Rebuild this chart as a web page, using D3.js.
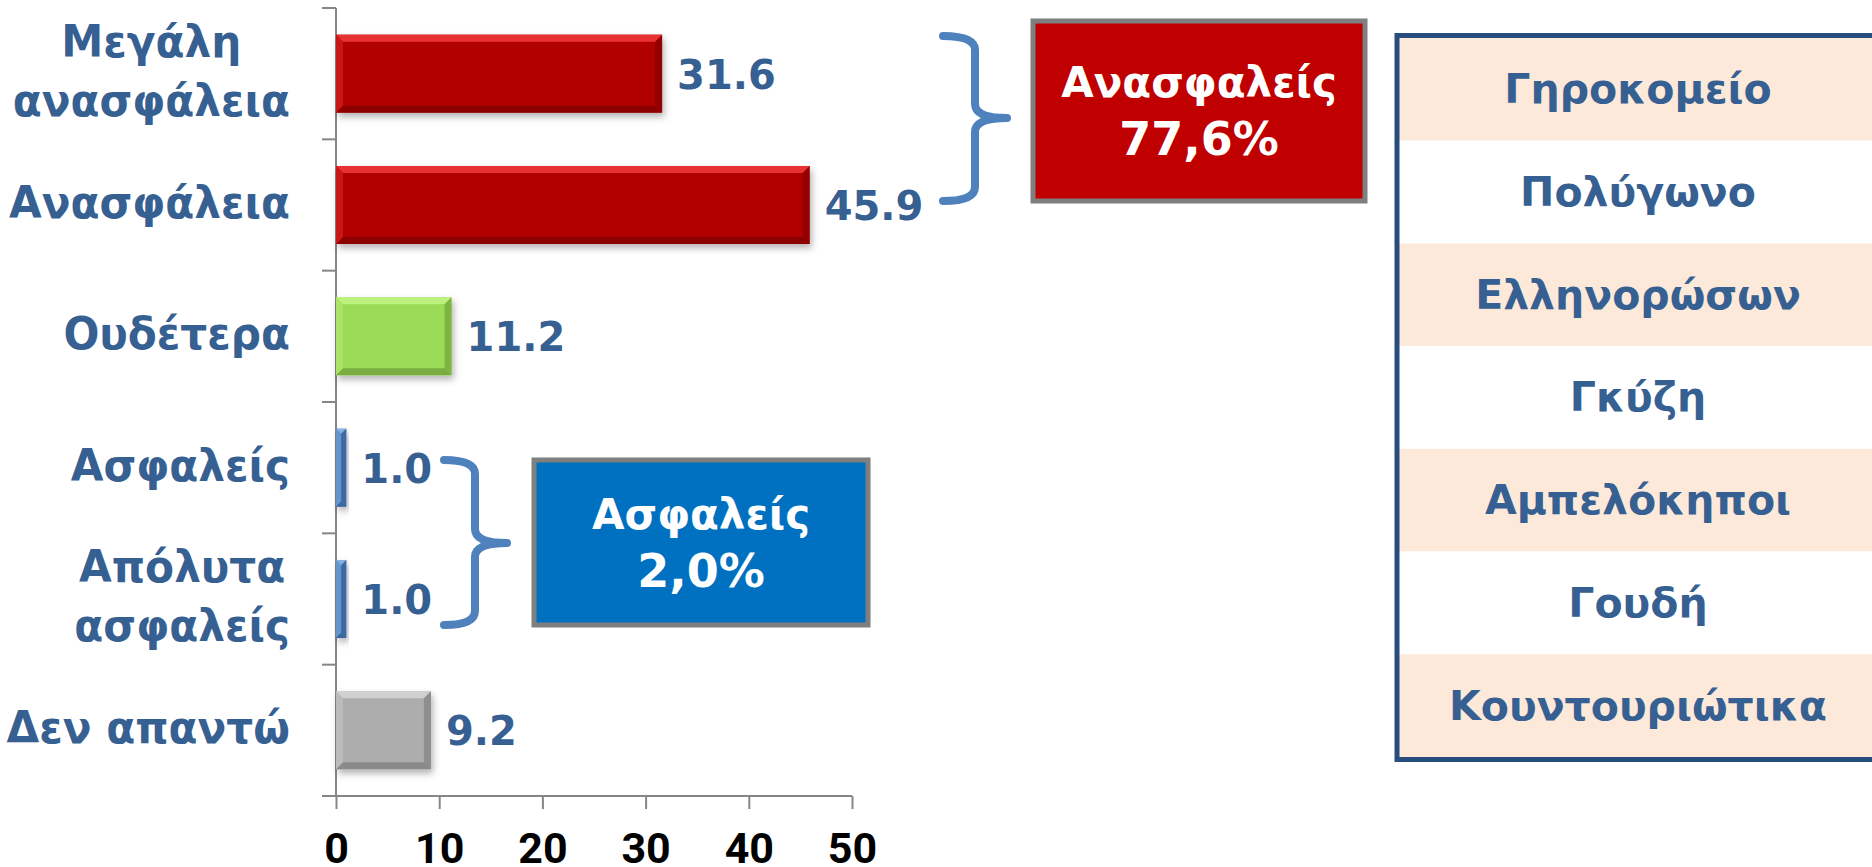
<!DOCTYPE html>
<html>
<head>
<meta charset="utf-8">
<script src="https://d3js.org/d3.v7.min.js"></script>
<style>
  body { margin: 0; background: #fff; }
  svg { display: block; }
  .lbl { font-family: "DejaVu Sans", Verdana, sans-serif; font-weight: bold; }
</style>
</head>
<body>
<div id="chart"></div>
<script>

// data
var categories = ["Μεγάλη\nανασφάλεια", "Ανασφάλεια", "Ουδέτερα", "Ασφαλείς", "Απόλυτα\nασφαλείς", "Δεν απαντώ"];
var values = [31.6, 45.9, 11.2, 1.0, 1.0, 9.2];
var groups = ["insecure", "insecure", "neutral", "secure", "secure", "noanswer"];
var xTicks = [0, 10, 20, 30, 40, 50];
var summaryLabels = ["Ανασφαλείς", "Ασφαλείς"];
var summaryValues = ["77,6%", "2,0%"];
var areas = ["Γηροκομείο", "Πολύγωνο", "Ελληνορώσων", "Γκύζη", "Αμπελόκηποι", "Γουδή", "Κουντουριώτικα"];

// colours per group: main, light edge, dark edge
var palette = {
  insecure: ["#b00404", "#f23a3a", "#7e0000"],
  neutral:  ["#9bdb55", "#c2f486", "#6b9a37"],
  secure:   ["#4f81bd", "#8fb6e6", "#2f5d92"],
  noanswer: ["#adadad", "#d6d6d6", "#7a7a7a"]
};
var textBlue = "#376092";
var axisGrey = "#868686";

var width = 1872, height = 867;
var axisY = 796;

var svg = d3.select("#chart").append("svg")
    .attr("width", width)
    .attr("height", height);

var defs = svg.append("defs");
var shadow = defs.append("filter").attr("id", "shadow")
    .attr("x", "-10%").attr("y", "-20%").attr("width", "130%").attr("height", "160%");
shadow.append("feDropShadow")
    .attr("dx", 2).attr("dy", 4).attr("stdDeviation", 3.5)
    .attr("flood-color", "#000").attr("flood-opacity", 0.3);

// scales
var x = d3.scaleLinear().domain([0, 50]).range([336, 852]);
var y = d3.scaleBand().domain(categories).range([8, axisY]).paddingInner(0.406).paddingOuter(0.203);

// y axis (ticks at band boundaries, like the office chart)
var bounds = categories.map(function(c) { return y(c) - y.step() * y.paddingInner() / 2; }).concat([axisY]);
svg.append("line")
    .attr("x1", x(0)).attr("x2", x(0)).attr("y1", 8).attr("y2", axisY)
    .attr("stroke", axisGrey).attr("stroke-width", 2);
svg.selectAll(".ytick").data(bounds).enter().append("line")
    .attr("x1", x(0) - 14).attr("x2", x(0))
    .attr("y1", function(d) { return d; }).attr("y2", function(d) { return d; })
    .attr("stroke", axisGrey).attr("stroke-width", 2);

// x axis
var xAxis = svg.append("g")
    .attr("transform", "translate(0," + axisY + ")")
    .call(d3.axisBottom(x).tickValues(xTicks).tickSize(13).tickSizeOuter(0).tickFormat(d3.format("d")));
xAxis.select(".domain").remove();
xAxis.append("line").attr("x1", x(0) - 14).attr("x2", x(50)).attr("stroke", axisGrey).attr("stroke-width", 2);
xAxis.selectAll(".tick line").attr("stroke", axisGrey).attr("stroke-width", 2);
xAxis.selectAll(".tick text")
    .attr("dy", null).attr("y", 67)
    .attr("fill", "#000")
    .style("font-family", "Roboto, 'Liberation Sans', sans-serif")
    .style("font-weight", "bold")
    .style("font-size", "43px");

// bars with a bevel look
var bars = svg.selectAll(".bar").data(values).enter().append("g")
    .attr("class", "bar")
    .attr("filter", "url(#shadow)");

bars.each(function(v, i) {
  var g = d3.select(this);
  var c = palette[groups[i]];
  var bx = x(0), by = y(categories[i]), bw = x(v) - x(0), bh = y.bandwidth();
  var b = Math.min(7, bw / 2, bh / 2);
  g.append("rect").attr("x", bx).attr("y", by).attr("width", bw).attr("height", bh).attr("fill", c[0]);
  var pts = function(p) { return p.map(function(q) { return q.join(","); }).join(" "); };
  g.append("polygon").attr("points", pts([[bx, by], [bx + bw, by], [bx + bw - b, by + b], [bx + b, by + b]]))
      .attr("fill", c[1]).attr("opacity", 0.85);
  g.append("polygon").attr("points", pts([[bx, by + bh], [bx + bw, by + bh], [bx + bw - b, by + bh - b], [bx + b, by + bh - b]]))
      .attr("fill", c[2]).attr("opacity", 0.7);
  g.append("polygon").attr("points", pts([[bx, by], [bx + b, by + b], [bx + b, by + bh - b], [bx, by + bh]]))
      .attr("fill", c[1]).attr("opacity", 0.35);
  g.append("polygon").attr("points", pts([[bx + bw, by], [bx + bw - b, by + b], [bx + bw - b, by + bh - b], [bx + bw, by + bh]]))
      .attr("fill", c[2]).attr("opacity", 0.6);
});

// value labels
svg.selectAll(".val").data(values).enter().append("text")
    .attr("class", "lbl")
    .attr("x", function(d) { return x(d) + 15; })
    .attr("y", function(d, i) { return y(categories[i]) + y.bandwidth() / 2 + 15; })
    .attr("fill", textBlue)
    .style("font-size", "40px")
    .text(function(d) { return d3.format(".1f")(d); });

// category labels, centred lines, block right aligned (slightly narrowed)
var labelRight = 290, squeeze = 0.96;
var labelG = svg.append("g").attr("transform", "translate(" + labelRight + ",0) scale(" + squeeze + ",1)");
categories.forEach(function(c) {
  var lines = c.split("\n");
  var cy = y(c) + y.bandwidth() / 2;
  var t = labelG.append("text").attr("class", "lbl")
      .attr("fill", textBlue).style("font-size", "44px").attr("text-anchor", "middle");
  var spans = lines.map(function(l, k) {
    return t.append("tspan").text(l)
        .attr("y", cy + 13 + (k - (lines.length - 1) / 2) * 59);
  });
  var w = d3.max(spans, function(s) { return s.node().getComputedTextLength(); });
  spans.forEach(function(s) { s.attr("x", -w / 2); });
});

// braces
function brace(x0, xv, xp, yt, ym, yb) {
  var r = 14;
  return "M" + x0 + "," + yt +
    " Q" + xv + "," + yt + " " + xv + "," + (yt + r) +
    " L" + xv + "," + (ym - r) +
    " Q" + xv + "," + ym + " " + xp + "," + ym +
    " Q" + xv + "," + ym + " " + xv + "," + (ym + r) +
    " L" + xv + "," + (yb - r) +
    " Q" + xv + "," + yb + " " + x0 + "," + yb;
}
var braceSpecs = [[943, 975, 1007, 36, 118, 201], [444, 475, 507, 460, 543, 625]];
svg.selectAll(".brace").data(braceSpecs).enter().append("path")
    .attr("d", function(d) { return brace.apply(null, d); })
    .attr("fill", "none").attr("stroke", "#4f81bd").attr("stroke-width", 8)
    .attr("stroke-linecap", "round").attr("stroke-linejoin", "round");

// summary boxes
var boxSpecs = [
  { x: 1033, y: 21, w: 332, h: 180, fill: "#c00000" },
  { x: 534, y: 460, w: 334, h: 165, fill: "#0070c0" }
];
boxSpecs.forEach(function(b, i) {
  svg.append("rect").attr("x", b.x).attr("y", b.y).attr("width", b.w).attr("height", b.h)
      .attr("fill", b.fill).attr("stroke", "#7f7f7f").attr("stroke-width", 5);
  var cx = b.x + b.w / 2, cy = b.y + b.h / 2;
  svg.append("text").attr("class", "lbl").attr("text-anchor", "middle")
      .attr("x", cx).attr("y", cy - 14).attr("fill", "#fff").style("font-size", "42px")
      .text(summaryLabels[i]);
  svg.append("text").attr("class", "lbl").attr("text-anchor", "middle")
      .attr("x", cx).attr("y", cy + 44).attr("fill", "#fff").style("font-size", "46px")
      .text(summaryValues[i]);
});

// area table
var tX = 1397, tTop = 38, tW = 490, tBottom = 757;
var rowH = (tBottom - tTop) / areas.length;
var rows = svg.selectAll(".row").data(areas).enter().append("g")
    .attr("transform", function(d, i) { return "translate(" + tX + "," + (tTop + i * rowH) + ")"; });
rows.append("rect").attr("width", tW).attr("height", rowH)
    .attr("fill", function(d, i) { return i % 2 === 0 ? "#fde9d9" : "#fff"; });
rows.append("text").attr("class", "lbl").attr("text-anchor", "middle")
    .attr("x", 1638 - tX).attr("y", rowH / 2 + 14)
    .attr("fill", textBlue).style("font-size", "41px")
    .text(function(d) { return d; });
svg.append("rect").attr("x", tX).attr("y", tTop - 2.5).attr("width", tW).attr("height", tBottom - tTop + 5)
    .attr("fill", "none").attr("stroke", "#264d7e").attr("stroke-width", 5);

</script>
</body>
</html>
